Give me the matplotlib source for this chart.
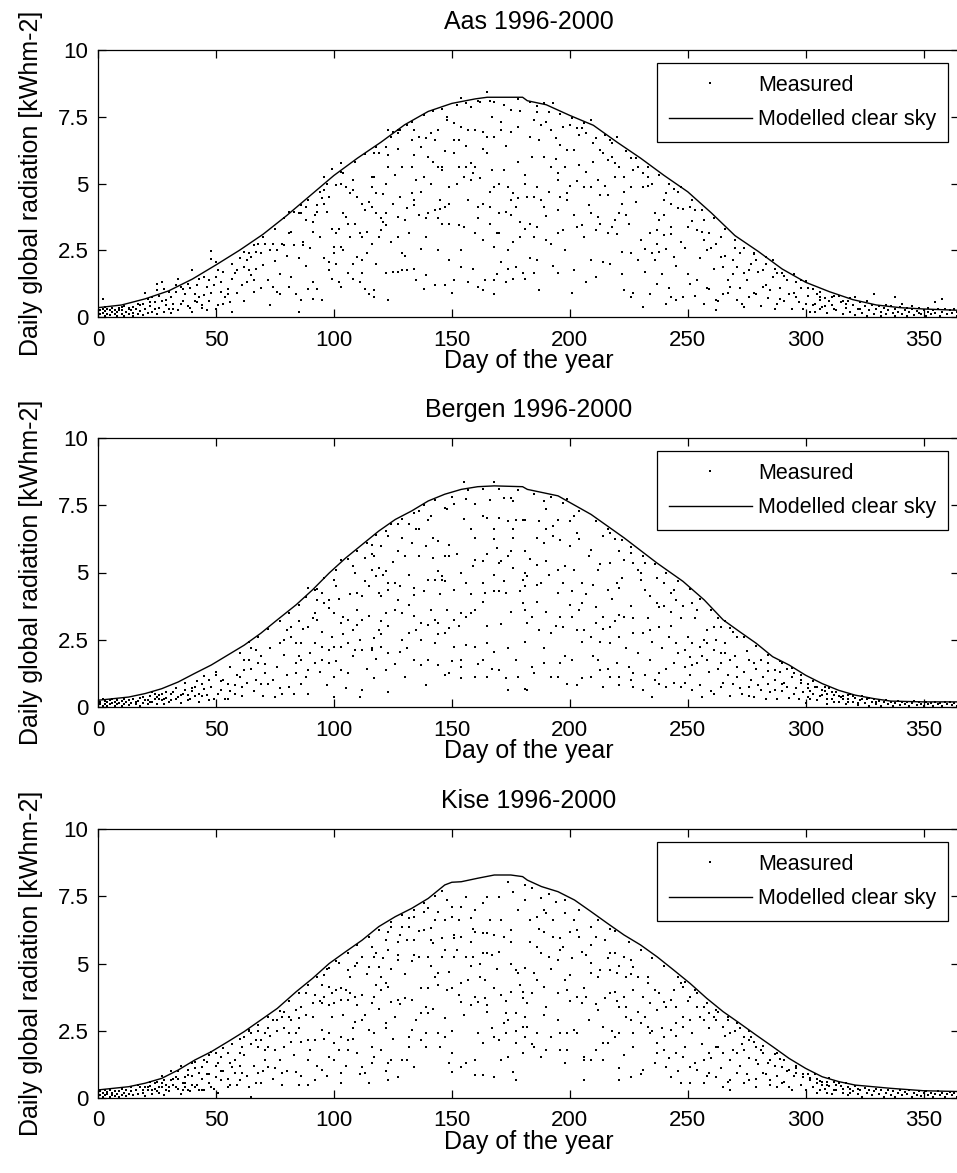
import matplotlib
matplotlib.use("Agg")
import matplotlib.pyplot as plt
from matplotlib.lines import Line2D

plt.rcParams['font.family'] = ['Liberation Sans', 'DejaVu Sans']

titles = ["Aas 1996-2000", "Bergen 1996-2000", "Kise 1996-2000"]
x_ticks = [0, 50, 100, 150, 200, 250, 300, 350]
y_ticks = [0, 2.5, 5, 7.5, 10]
y_tick_labels = ["0", "2.5", "5", "7.5", "10"]

# ---------------- Aas ----------------
aas_clear_days = [0,10,20,30,40,50,60,70,80,90,100,110,120,130,140,150,160,165,180,182,190,200,210,220,230,240,250,260,270,280,290,300,310,320,330,340,350,365]
aas_clear_vals = [0.35,0.45,0.68,0.98,1.42,1.95,2.5,3.1,3.8,4.55,5.3,5.95,6.55,7.2,7.7,8.0,8.17,8.23,8.23,8.1,7.95,7.55,7.18,6.55,5.95,5.3,4.69,3.9,3.05,2.45,1.8,1.3,0.95,0.65,0.45,0.35,0.3,0.25]
aas_measured = [
(165,8.44),(154,8.19),(158,7.88),(161,8.1),(168,8.06),(172,7.94),(175,7.75),(171,7.31),(171,7.0),(175,6.94),(178,7.1),(165,6.75),(168,6.75),(163,6.94),(160,7.0),(157,7.0),(154,7.13),(151,7.25),(148,7.5),(148,7.38),(144,7.0),(151,6.63),(153,6.63),(141,6.88),(139,6.69),(136,6.75),(133,6.63),(143,6.63),(140,6.0),(142,5.81),(144,5.63),(146,5.63),(146,5.5),(151,6.13),(153,5.63),(156,5.63),(158,5.75),(160,5.63),(155,5.25),(158,5.13),(159,5.38),(163,6.31),(165,6.13),(167,5.5),(166,4.69),(168,4.88),(170,5.0),(174,4.88),(176,4.63),(175,4.38),(178,4.44),(177,4.13),(170,3.88),(173,3.94),(175,3.81),(179,3.56),(170,3.13),(169,3.13),(168,2.63),(174,2.5),(179,3.0),(171,2.06),(174,1.81),(177,1.88),(180,1.63),(176,1.44),(173,1.31),(168,0.88),(168,1.38),(164,1.38),(161,1.13),(163,1.0),(157,1.31),(154,1.88),(151,1.38),(147,1.19),(144,2.5),(149,2.13),(153,3.44),(155,3.38),(160,3.13),(161,3.69),(161,4.13),(163,4.25),(166,4.13),(147,4.13),(145,4.06),(143,4.0),(140,3.88),(139,3.69),(144,3.69),(146,3.5),(149,4.25),(149,4.88),(134,4.38),(134,4.19),(135,5.13),(138,5.25),(136,3.81),(133,4.63),(130,3.63),(132,3.13),(127,3.0),(127,3.75),(125,4.25),(122,3.88),(121,3.56),(122,3.44),(119,3.0),(116,2.75),(112,3.0),(111,3.13),(114,3.19),(120,3.25),(116,4.13),(118,3.88),(112,4.25),(113,4.0),(110,4.5),(116,4.88),(118,4.63),(122,5.0),(117,5.25),(116,5.25),(123,5.63),(123,6.06),(122,6.38),(119,6.13),(117,6.13),(127,6.31),(129,5.63),(134,6.06),(137,6.38),(136,6.75),(131,7.19),(134,7.0),(125,6.94),(123,7.0),(127,6.88),(127,7.0),(108,5.13),(105,4.88),(103,5.0),(101,4.94),(107,4.63),(108,4.75),(103,5.75),(103,5.44),(99,5.56),(96,5.25),(96,4.75),(98,4.5),(95,4.44),(93,4.19),(96,4.25),(97,3.94),(93,3.94),(92,3.81),(105,3.75),(106,3.5),(102,3.31),(101,3.13),(91,3.19),(91,3.56),(88,3.63),(86,3.88),(88,4.13),(85,3.88),(81,3.94),(81,3.13),(82,3.19),(87,2.81),(87,2.69),(78,2.75),(79,2.69),(76,2.5),(74,2.75),(73,2.5),(71,2.75),(68,2.75),(69,2.38),(67,2.44),(65,2.25),(63,2.13),(62,1.88),(64,1.75),(65,1.56),(66,1.38),(61,1.19),(59,1.75),(58,1.63),(57,1.44),(55,1.06),(55,0.88),(54,0.75),(52,1.31),(50,1.5),(48,2.47),(48,2.19),(50,2.06),(51,1.75),(47,1.38),(46,1.13),(45,0.81),(43,0.75),(41,0.88),(40,1.75),(43,1.44),(38,1.25),(36,1.06),(34,1.44),(35,1.13),(33,0.94),(31,0.75),(28,1.06),(27,1.31),(25,1.25),(25,1.0),(23,0.75),(21,0.69),(19,0.5),(17,0.5),(15,0.38),(13,0.31),(10,0.38),(9,0.25),(6,0.19),(3,0.38),(2,0.69),
(74,1.13),(76,0.94),(77,0.88),(73,0.44),(81,1.13),(84,0.88),(86,0.63),(85,0.19),(89,1.06),(93,1.06),(91,0.69),(95,0.63),(98,2.06),(98,1.75),(100,2.63),(100,2.38),(103,2.63),(104,2.5),(99,1.44),(102,1.31),(103,1.13),(106,1.63),(108,1.44),(108,2.0),(110,2.25),(112,2.13),(112,1.63),(113,1.06),(115,0.88),(117,0.75),(117,1.0),(123,0.63),(122,1.63),(125,1.69),(127,1.69),(129,1.75),(131,1.75),(134,1.81),(129,2.38),(137,2.56),(139,1.56),(138,1.06),
(183,8.06),(189,8.0),(193,8.0),(186,7.69),(191,7.69),(185,7.38),(190,7.31),(192,7.0),(200,7.19),(203,7.06),(205,7.06),(209,7.38),(207,6.88),(211,6.69),(210,6.5),(213,6.25),(217,6.63),(220,6.75),(183,6.75),(187,6.63),(194,6.69),(196,6.44),(199,6.25),(202,6.25),(195,5.38),(195,5.13),(189,6.0),(192,5.63),(198,5.63),(204,5.69),(207,5.44),(212,5.13),(214,6.13),(216,5.88),(219,5.75),(221,5.63),(226,5.94),(227,5.5),(229,5.63),(231,5.38),(233,5.25),(235,5.0),(231,4.88),(226,4.88),(223,5.25),(219,5.25),(222,4.25),(221,3.88),(224,3.81),(216,4.56),(213,4.56),(209,4.88),(206,4.88),(199,4.63),(199,4.38),(196,4.5),(188,4.38),(185,4.5),(186,4.88),(181,5.31),(181,5.0),(195,4.0),(189,4.13),(202,3.81),(209,3.88),(212,3.75),(219,3.63),(205,3.44),(203,3.38),(197,3.25),(195,3.13),(192,2.75),(190,2.88),(186,3.38),(183,3.5),(185,3.0),(181,3.31),(211,3.25),(216,3.13),(218,3.38),(222,2.44),(226,2.38),(229,2.13),(232,2.56),(234,3.13),(237,3.25),(238,3.63),(240,3.81),(243,4.25),(241,4.63),(244,4.81),(247,4.88),(248,4.06),(251,4.13),(253,4.0),(243,3.38),(240,3.06),(237,2.75),(238,2.44),(236,2.13),(241,2.56),(244,2.25),(247,2.81),(250,3.38),(254,3.25),(257,3.63),(257,2.88),(258,2.5),(259,3.13),(262,2.75),(264,2.25),(265,1.88),(267,1.38),(269,2.13),(271,1.88),(272,2.38),(274,1.63),(276,1.75),(278,2.38),(279,2.13),(282,1.75),(283,2.25),(286,2.13),(288,1.63),(290,1.63),(292,1.38),(295,1.6),(298,1.38),(300,1.35),(303,1.06),(305,0.88),(306,0.63),(307,0.38),(300,0.5),(296,0.75),(293,0.88),(289,0.69),(288,0.5),(285,1.0),(282,1.13),(279,0.88),(276,0.75),(274,0.38),(271,0.63),(268,1.13),(265,0.88),(262,0.63),(259,1.06),(257,0.5),(254,1.38),(251,1.25),(248,0.75),(245,0.63),(243,0.75),(241,0.5),(237,1.25),(234,0.88),(231,0.38),(226,0.75),(223,1.0),(214,2.06),(209,2.13),(207,1.31),(202,1.75),(195,1.63),(186,2.13),(181,1.44),(185,1.63),(262,0.25),
(321,0.75),(329,0.88),(338,0.75),(341,0.5),(355,0.56),(358,0.69),
(0,0.05),(0,0.2),(0,0.32),(1,0.1),(1,0.25),(2,0.15),(2,0.3),(3,0.05),(3,0.22),(4,0.12),(4,0.3),(5,0.08),(5,0.25),(6,0.35),(7,0.1),(7,0.28),(8,0.05),(8,0.18),(9,0.32),(10,0.12),(10,0.25),(11,0.05),(11,0.4),(12,0.2),(13,0.1),(13,0.35),(14,0.25),(15,0.05),(15,0.15),(16,0.3),(17,0.12),(18,0.22),(18,0.45),(19,0.08),(20,0.3),(21,0.15),(22,0.4),(23,0.2),(24,0.55),(25,0.1),(26,0.35),(27,0.6),(28,0.2),(29,0.45),(30,0.3),(31,0.15),(32,0.5),(34,0.25),(36,0.6),(38,0.4),(40,0.2),(42,0.55),(44,0.35),(47,0.6),(50,0.3),(53,0.5),(57,0.2),
(302,0.2),(304,0.5),(306,0.3),(308,0.7),(309,0.15),(311,0.45),(312,0.8),(313,0.25),(315,0.55),(316,0.1),(317,0.35),(318,0.6),(319,0.2),(320,0.45),(321,0.08),(322,0.3),(323,0.55),(324,0.15),(325,0.4),(326,0.05),(327,0.25),(328,0.45),(329,0.12),(330,0.3),(331,0.42),(332,0.05),(332,0.2),(333,0.35),(334,0.1),(335,0.28),(336,0.4),(337,0.15),(338,0.05),(338,0.3),(339,0.2),(340,0.38),(341,0.1),(342,0.25),(343,0.05),(343,0.33),(344,0.18),(345,0.3),(346,0.08),(347,0.22),(348,0.35),(349,0.12),(350,0.27),(351,0.05),(352,0.2),(352,0.32),(353,0.1),(354,0.25),(355,0.15),(356,0.3),(357,0.05),(358,0.2),(359,0.3),(360,0.1),(361,0.25),(362,0.15),(363,0.3),(364,0.05),(364,0.2),(365,0.12),
]
aas_measured_more = [
(62,2.45),(66,2.7),(70,3.0),(75,3.3),(79,3.7),(83,3.95),(86,4.2),(89,4.4),(94,4.7),(97,5.0),(104,5.4),(109,5.8),(113,6.1),(118,6.35),(124,6.75),(128,7.0),(133,7.3),(138,7.55),(142,7.7),(146,7.8),(152,7.95),(156,8.0),(162,8.05),(166,8.1),(178,8.15),(186,7.9),(196,7.6),(201,7.45),(206,7.25),(215,6.8),(218,6.5),(224,6.2),(228,5.95),(233,5.6),(238,5.3),(242,5.0),(246,4.7),(252,4.4),(256,4.0),(261,3.7),(266,3.3),(270,2.9),(274,2.6),(278,2.35),(283,2.0),(287,1.8),(291,1.55),(296,1.3),(301,1.1),(306,0.95),(311,0.75),(316,0.6),
(20,0.9),(22,0.55),(24,0.3),(26,0.8),(29,0.65),(30,0.95),(32,0.3),(33,1.2),(35,0.5),(37,0.85),(39,0.35),(39,1.1),(41,0.6),(42,1.2),(44,0.45),(45,1.5),(46,0.25),(48,0.9),(49,1.2),(51,0.45),(52,0.95),(53,1.7),(56,0.55),(57,2.0),(59,0.9),(60,2.2),(62,0.6),(63,1.3),(64,2.4),(66,0.95),(67,1.8),(69,1.1),(70,1.95),(72,1.4),(75,2.1),(77,1.6),(80,2.3),(82,1.5),(83,2.7),(85,2.2),(88,1.9),(90,2.6),(91,1.3),(94,3.0),(96,2.2),(99,3.3),(101,2.0),(104,3.9),(107,3.0),(109,3.5),(111,1.3),(114,2.4),(115,4.3),(118,2.0),(120,3.7),(121,4.6),(124,2.8),(126,5.3),(128,4.5),(130,2.3),(131,4.1),(133,5.6),(135,1.4),(137,4.7),(139,3.0),(141,5.0),(143,1.2),(145,4.4),(147,6.2),(149,3.5),(150,0.9),(152,5.0),(154,2.5),(156,6.4),(157,4.4),(159,1.8),(162,5.2),(163,2.9),(166,3.5),(167,7.5),(169,1.6),(172,5.5),(173,6.4),(176,2.8),(178,5.8),(179,7.7),(182,4.5),(183,2.2),(184,6.0),(187,1.0),(188,7.2),(190,3.8),(191,4.7),(193,1.9),(194,5.9),(197,7.1),(198,2.5),(200,4.9),(201,0.9),(203,5.1),(204,6.8),(206,3.0),(208,4.2),(210,5.8),(211,1.5),(213,3.5),(215,4.9),(217,2.0),(218,6.0),(220,3.1),(222,1.6),(223,4.7),(225,3.5),(227,0.9),(228,4.3),(230,2.9),(232,1.7),(233,4.9),(235,2.4),(236,3.9),(239,1.6),(240,4.4),(242,1.1),(243,3.1),(245,1.9),(246,4.1),(249,2.6),(250,1.6),(252,3.6),(253,0.8),(255,2.2),(256,3.2),(258,1.1),(260,2.6),(261,1.8),(263,0.6),(264,3.0),(266,2.3),(267,0.9),(269,1.6),(270,2.6),(272,1.1),(273,0.5),(275,1.4),(277,2.0),(278,0.9),(280,1.7),(281,0.4),(283,1.2),(284,0.7),(286,1.5),(287,0.3),(289,1.1),(291,0.6),(292,1.4),(294,0.3),(295,0.9),(297,0.55),(298,1.1),(299,0.3),(301,0.8),(303,0.45),(304,0.2),(306,0.75),(308,0.4),(310,0.6),(312,0.3),(314,0.8),(317,0.5),(319,0.7),(323,0.3),(326,0.6),(334,0.45),(345,0.4),(348,0.15),
]

# ---------------- Bergen ----------------
bergen_clear_days = [0,13,20,27,34,41,48,55,62,69,76,84,91,98,105,112,119,126,133,140,147,154,161,168,180,182,195,209,223,237,248,257,265,272,279,286,293,300,307,314,321,329,336,350,365]
bergen_clear_vals = [0.25,0.37,0.5,0.68,0.93,1.25,1.56,1.93,2.3,2.74,3.24,3.8,4.36,4.98,5.54,6.04,6.54,6.97,7.29,7.66,7.91,8.09,8.19,8.22,8.19,8.09,7.85,7.16,6.29,5.35,4.67,3.98,3.24,2.8,2.37,1.87,1.56,1.18,0.87,0.62,0.44,0.31,0.22,0.19,0.19]
bergen_measured = [
(155,8.38),(168,8.38),(170,8.09),(172,7.78),(175,7.78),(176,7.66),(160,7.53),(156,7.72),(148,7.35),(147,7.41),(151,7.53),(141,7.1),(140,6.97),(136,6.6),(136,7.29),(132,6.79),(127,6.79),(123,6.35),(122,6.54),(163,7.1),(165,7.04),(170,7.04),(174,6.91),(177,6.97),(180,6.97),(158,6.6),(168,6.6),(168,6.23),(176,6.6),(144,6.16),(149,6.04),(149,5.6),(142,5.54),(139,5.98),(136,5.6),(133,6.1),(130,5.6),(127,5.79),(120,5.98),(116,6.04),(116,5.67),(113,5.54),(119,5.17),(122,5.04),(123,4.61),(108,5.23),(109,4.98),(116,5.1),(118,4.86),(115,4.48),(110,4.23),(112,4.11),(119,4.23),(120,4.11),(123,4.36),(126,4.61),(127,3.99),(129,3.49),(132,3.8),(134,4.42),(134,4.17),(140,4.73),(143,4.73),(146,4.73),(147,4.67),(146,4.86),(144,5.04),(151,4.36),(154,4.98),(156,4.61),(160,5.48),(163,5.42),(159,5.23),(165,5.67),(168,4.92),(170,5.35),(171,5.42),(174,5.6),(175,5.79),(176,5.17),(180,4.73),(181,4.98),(181,4.48),(180,3.86),(181,3.61),(175,3.55),(173,4.23),(170,4.3),(168,4.3),(164,4.23),(163,3.92),(160,3.61),(158,3.49),(156,3.36),(154,3.49),(151,3.24),(149,2.93),(147,2.74),(144,3.11),(143,3.24),(140,3.05),(137,3.11),(135,2.86),(132,2.74),(129,2.49),(126,3.61),(122,3.49),(120,3.18),(119,2.86),(117,2.55),(116,2.18),(112,3.24),(110,3.05),(108,2.86),(106,3.24),(104,3.36),(103,3.11),(100,3.49),(98,3.67),(96,3.86),(98,3.99),(95,4.23),(93,3.99),(92,4.36),(89,4.42),(101,4.48),(100,4.73),(92,3.49),(93,3.24),(89,2.99),(85,3.18),(82,2.99),(80,2.86),(79,2.49),(77,2.37),(84,2.37),(86,2.37),(92,2.37),(95,2.24),(98,2.12),(100,2.24),(103,2.24),(106,2.37),(109,2.12),(112,2.12),(116,2.12),(120,2.24),(123,1.99),(128,2.05),(134,1.74),(137,1.56),(140,1.74),(144,1.56),(149,1.25),(143,2.37),(151,2.24),(154,1.74),(160,2.24),(165,2.37),(163,1.74),(168,2.05),(170,1.37),(173,1.06),(165,1.12),(160,1.12),(154,1.49),(154,1.06),(174,0.62),(181,0.68),(177,1.74),(147,1.18),(130,1.12),(123,0.56),(122,1.37),(117,1.06),(112,0.62),(111,0.37),(106,1.25),(103,1.37),(100,1.12),(98,1.62),(95,1.74),(92,1.62),(89,1.37),(86,1.74),(84,1.62),(84,1.25),(86,0.87),(89,0.5),(100,0.37),(81,0.75),(78,0.5),(75,0.37),(72,0.87),(69,0.87),(71,1.25),(68,1.62),(67,2.12),(65,2.18),(64,1.74),(62,1.37),(60,1.12),(61,0.75),(58,0.5),(55,0.87),(52,0.62),(50,1.18),(47,1.0),(45,0.68),(43,0.5),(41,0.75),(38,0.44),(37,0.62),(34,0.37),(31,0.5),(28,0.31),(27,0.5),(25,0.37),(23,0.56),(21,0.25),(19,0.37),(16,0.19),(103,5.45),
(189,7.66),(190,7.35),(199,7.72),(202,7.1),(200,6.91),(195,6.97),(190,6.6),(193,6.72),(193,6.35),(186,6.29),(181,6.97),(181,5.79),(189,6.1),(200,5.98),(204,6.23),(203,6.48),(209,5.85),(214,6.35),(217,6.48),(219,6.23),(221,5.79),(223,5.48),(226,5.73),(217,5.35),(212,5.1),(198,5.23),(195,5.1),(190,5.42),(186,5.29),(182,4.86),(186,4.55),(188,4.61),(195,4.23),(201,4.3),(205,4.61),(210,4.55),(216,4.36),(220,4.61),(221,4.42),(227,5.35),(229,5.1),(232,5.35),(237,4.79),(240,4.61),(243,4.23),(244,4.36),(230,4.73),(232,4.36),(234,4.11),(237,3.86),(240,3.74),(243,3.55),(245,3.99),(248,3.74),(252,3.86),(254,3.61),(226,3.74),(223,3.36),(221,3.42),(217,2.99),(214,3.36),(211,3.11),(205,3.86),(204,3.61),(201,3.36),(196,3.36),(190,3.55),(184,3.36),(182,3.11),(187,2.86),(192,2.74),(197,2.99),(203,2.86),(206,2.86),(209,2.62),(213,2.43),(217,2.37),(221,2.62),(227,2.74),(231,2.74),(234,2.86),(238,2.99),(242,2.62),(245,2.37),(249,2.12),(252,2.37),(258,2.86),(261,2.99),(264,2.99),(266,3.2),(269,2.8),(271,2.6),(266,2.37),(264,1.99),(261,2.12),(258,2.37),(255,2.24),(251,1.87),(252,1.56),(249,1.49),(254,1.62),(258,1.74),(264,1.62),(268,1.74),(271,1.49),(276,1.74),(278,1.62),(281,1.74),(284,1.62),(287,1.37),(290,1.62),(292,1.43),(295,1.25),(298,1.0),(301,0.87),(304,0.75),(307,0.62),(309,0.5),(312,0.44),(315,0.37),(318,0.31),(301,0.37),(295,0.5),(292,0.75),(290,0.87),(287,0.62),(284,0.87),(281,0.62),(278,0.37),(276,0.75),(273,0.5),(269,0.87),(264,0.75),(261,0.5),(256,0.37),(252,0.62),(247,0.75),(241,0.75),(238,0.87),(235,0.37),(231,0.62),(227,0.75),(226,1.0),(221,1.12),(217,1.12),(213,1.37),(209,1.12),(205,1.06),(199,0.87),(195,1.12),(189,1.62),(185,1.25),(182,0.62),(214,0.75),(227,1.25),(238,1.25),(201,1.74),(196,1.62),(212,1.74),(220,1.62),(234,1.74),(244,1.62),
(0,0.05),(0,0.15),(0,0.25),(1,0.1),(1,0.2),(2,0.05),(2,0.28),(3,0.12),(3,0.22),(4,0.05),(4,0.18),(5,0.1),(5,0.25),(6,0.15),(6,0.3),(7,0.05),(7,0.2),(8,0.1),(8,0.27),(9,0.15),(10,0.05),(10,0.22),(11,0.12),(11,0.3),(12,0.18),(13,0.08),(13,0.25),(14,0.15),(15,0.3),(16,0.1),(17,0.22),(18,0.05),(18,0.35),(19,0.15),(20,0.25),(21,0.1),(22,0.4),(23,0.2),(24,0.3),(25,0.12),(26,0.45),(27,0.25),(28,0.1),(29,0.35),(30,0.2),(32,0.55),(33,0.3),(35,0.15),(36,0.5),(38,0.25),(40,0.7),(41,0.4),(43,0.2),(44,0.85),(46,0.45),(49,0.3),(52,0.95),(54,0.3),(56,0.6),
(300,0.15),(302,0.6),(305,0.25),(307,0.45),(309,0.1),(310,0.7),(311,0.3),(313,0.55),(314,0.2),(316,0.4),(317,0.1),(318,0.3),(319,0.5),(320,0.2),(321,0.35),(322,0.08),(323,0.25),(324,0.4),(325,0.15),(326,0.3),(327,0.05),(328,0.2),(329,0.28),(330,0.1),(331,0.22),(332,0.05),(333,0.18),(334,0.25),(335,0.1),(336,0.2),(337,0.05),(338,0.15),(339,0.22),(340,0.08),(341,0.18),(342,0.1),(343,0.2),(344,0.05),(345,0.15),(346,0.22),(347,0.08),(348,0.18),(349,0.12),(350,0.05),(351,0.2),(352,0.1),(353,0.15),(354,0.05),(355,0.2),(356,0.1),(357,0.15),(358,0.05),(359,0.18),(360,0.1),(361,0.2),(362,0.08),(363,0.15),(364,0.05),(365,0.12),
]
bergen_measured_more = [
(60,2.0),(64,2.4),(68,2.6),(72,2.9),(77,3.2),(81,3.5),(85,3.8),(88,4.1),(93,4.4),(96,4.8),(101,5.1),(106,5.5),(110,5.8),(114,6.1),(118,6.4),(124,6.8),(129,7.0),(134,7.2),(138,7.5),(143,7.7),(150,7.8),(157,8.05),(163,8.1),(178,8.05),(185,7.9),(192,7.8),(197,7.6),(204,7.3),(211,6.9),(216,6.6),(222,6.2),(226,5.95),(231,5.6),(236,5.3),(241,5.0),(246,4.7),(251,4.4),(255,4.0),(260,3.6),(263,3.3),(268,2.95),(274,2.6),(279,2.25),(284,1.95),(289,1.7),(294,1.45),(298,1.2),(303,0.95),(308,0.75),(313,0.55),(318,0.45),
(22,0.2),(24,0.5),(26,0.3),(29,0.55),(31,0.25),(33,0.7),(35,0.45),(37,0.9),(39,0.3),(40,0.6),(42,0.95),(44,0.4),(45,1.15),(47,0.25),(48,0.75),(50,1.3),(51,0.5),(53,1.0),(55,0.3),(56,1.5),(58,0.8),(59,1.2),(61,0.4),(62,1.75),(63,0.9),(65,1.4),(66,0.6),(67,1.0),(69,1.9),(70,0.4),(71,1.6),(73,2.2),(74,1.0),(76,1.5),(77,0.7),(79,1.95),(80,1.2),(82,2.6),(83,0.5),(85,1.9),(87,2.9),(88,1.1),(90,2.0),(91,3.3),(94,1.3),(95,2.8),(97,0.8),(99,2.6),(101,1.7),(102,4.0),(104,2.7),(105,0.7),(107,4.2),(108,1.9),(110,3.6),(111,2.5),(113,4.7),(114,1.4),(115,3.4),(117,5.6),(118,1.8),(120,2.7),(121,4.9),(123,3.0),(125,5.4),(126,1.6),(128,4.5),(129,6.3),(131,2.2),(132,4.9),(134,3.4),(135,6.6),(137,2.5),(138,4.3),(139,0.8),(141,3.6),(142,6.3),(144,2.7),(145,4.2),(147,5.6),(148,3.6),(150,1.7),(152,5.7),(153,3.0),(155,7.0),(156,2.3),(158,4.2),(160,6.3),(161,1.6),(163,4.6),(165,3.0),(166,7.7),(167,1.4),(169,5.9),(171,3.1),(172,4.7),(174,2.2),(176,6.3),(178,1.1),(179,4.3),(181,2.4),(183,5.5),(184,1.5),(186,3.9),(187,6.9),(189,2.2),(191,4.9),(192,1.1),(194,3.0),(196,6.2),(197,4.6),(198,1.9),(200,3.8),(202,5.1),(203,0.8),(205,2.4),(207,4.2),(208,5.6),(210,1.9),(211,3.7),(213,5.3),(214,2.9),(216,1.4),(218,4.0),(219,3.2),(221,0.8),(222,4.8),(224,2.2),(225,1.5),(227,3.3),(229,2.0),(230,5.0),(232,1.2),(233,3.3),(235,2.4),(236,1.0),(238,3.7),(239,2.2),(241,1.4),(243,3.0),(244,0.9),(246,2.0),(247,3.3),(249,0.9),(250,2.6),(251,1.2),(253,3.3),(255,0.8),(256,1.9),(257,2.5),(259,1.3),(260,0.6),(262,2.5),(263,1.4),(265,0.9),(266,2.0),(267,1.2),(268,0.4),(270,1.9),(271,1.1),(272,0.7),(274,1.3),(275,2.1),(276,0.4),(277,1.0),(279,1.4),(280,0.8),(282,1.1),(283,0.3),(284,1.35),(285,0.55),(287,1.0),(288,0.3),(289,1.3),(290,0.6),(291,0.9),(293,0.35),(294,1.1),(296,0.7),(297,0.3),(298,0.9),(299,0.55),(301,0.7),(302,0.3),(303,0.5),(305,0.75),(306,0.4),(308,0.6),(309,0.3),(311,0.55),(312,0.2),(314,0.4),(316,0.3),(318,0.2),(320,0.4),(322,0.15),(324,0.3),(327,0.35),(330,0.2),
]

# ---------------- Kise ----------------
kise_clear_days = [0,13,20,27,34,41,48,55,62,69,76,84,91,98,105,112,119,126,133,140,147,150,154,161,168,175,180,182,188,195,202,209,216,223,230,237,244,251,258,265,272,279,286,293,300,307,314,321,336,350,365]
kise_clear_vals = [0.3,0.42,0.55,0.73,1.04,1.41,1.72,2.09,2.47,2.9,3.33,3.95,4.45,5.0,5.44,5.87,6.37,6.74,7.05,7.42,7.92,8.02,8.04,8.17,8.29,8.29,8.23,8.1,7.86,7.67,7.36,6.93,6.49,6.06,5.69,5.25,4.76,4.26,3.71,3.21,2.78,2.34,1.91,1.47,1.1,0.79,0.61,0.48,0.36,0.27,0.24]
kise_measured = [
(174,8.04),(176,7.67),(170,7.48),(165,7.48),(163,7.24),(160,6.99),(156,7.48),(158,6.68),(154,7.11),(150,7.11),(148,7.36),(150,6.74),(153,6.62),(147,6.62),(143,6.62),(140,7.05),(138,6.93),(134,6.74),(132,6.68),(141,6.31),(138,6.25),(132,6.37),(129,6.37),(128,6.06),(124,6.37),(123,6.18),(122,5.87),(131,5.87),(134,5.87),(141,5.87),(142,5.75),(146,5.94),(151,6.06),(151,5.94),(154,6.0),(158,5.81),(160,6.18),(163,6.12),(165,6.12),(168,6.06),(171,6.62),(175,6.25),(175,5.81),(163,5.38),(165,5.38),(167,5.32),(170,5.44),(159,5.25),(156,5.25),(151,5.25),(146,5.25),(140,5.25),(136,5.25),(134,5.32),(127,5.32),(127,5.13),(123,5.5),(118,5.38),(116,5.63),(117,5.25),(112,5.25),(110,5.01),(115,4.88),(119,4.88),(120,4.51),(122,4.26),(123,4.14),(120,4.01),(117,3.77),(116,3.52),(112,3.83),(109,3.77),(110,3.46),(106,3.64),(105,4.01),(103,4.08),(106,4.76),(107,4.51),(102,5.01),(98,4.82),(96,4.57),(95,4.2),(98,4.14),(99,3.89),(96,3.77),(92,3.83),(91,3.52),(95,3.52),(98,3.46),(100,3.52),(103,3.64),(89,4.2),(88,3.89),(86,3.4),(84,3.27),(85,2.96),(82,2.9),(79,3.21),(78,3.02),(76,2.9),(74,2.9),(72,2.59),(71,2.4),(69,2.16),(68,1.91),(67,2.16),(65,2.4),(64,2.53),(62,2.28),(61,1.91),(60,1.66),(58,1.41),(57,1.16),(58,0.92),(55,1.66),(52,1.54),(51,1.29),(50,1.66),(48,1.7),(47,1.6),(45,1.41),(44,1.16),(43,0.92),(41,1.35),(40,1.29),(38,1.04),(37,0.79),(36,0.55),(34,1.0),(33,0.79),(31,0.67),(30,0.42),(28,0.67),(27,0.55),(26,0.42),(24,0.55),(23,0.3),(21,0.42),(20,0.42),(19,0.3),(17,0.48),
(75,1.1),(78,0.92),(78,0.48),(84,0.98),(85,0.48),(89,0.48),(89,1.41),(92,0.67),(95,1.04),(98,1.54),(100,1.41),(103,0.92),(103,0.55),(106,1.78),(110,1.66),(112,1.16),(113,0.92),(115,0.55),(116,1.29),(117,1.54),(120,1.78),(123,1.29),(123,0.67),(124,1.41),(127,0.79),(129,1.41),(134,1.16),(132,1.91),(133,2.53),(132,2.28),(137,2.16),(139,2.4),(140,3.15),(144,2.4),(147,2.28),(147,2.96),(150,1.66),(149,1.29),(150,0.98),(154,1.16),(160,1.41),(160,0.85),(163,0.85),(168,0.79),(163,2.03),(168,2.28),(170,2.16),(173,2.4),(174,2.9),(177,3.15),(172,2.78),(177,2.03),(174,1.54),(176,0.98),(177,0.67),(180,1.66),(181,2.28),(180,2.65),(180,3.95),(180,3.71),(173,3.15),(165,3.21),(165,3.46),(161,3.58),(160,3.77),(158,3.46),(154,3.58),(153,3.83),(150,4.08),(154,4.26),(157,4.39),(162,4.51),(164,4.39),(168,4.08),(171,3.83),(175,3.95),(177,4.76),(178,4.63),(181,4.82),(149,4.7),(144,4.2),(144,4.63),(143,4.51),(140,4.08),(139,3.4),(137,3.15),(133,3.64),(130,3.71),(127,3.64),(124,3.58),(126,3.02),(122,2.78),(122,2.59),(117,2.4),(115,2.53),(112,2.9),(109,2.84),(108,2.59),(106,2.16),(103,2.28),(100,2.03),(98,2.4),(95,2.53),(92,2.16),(89,2.16),(86,2.09),(84,2.4),(82,2.09),(81,2.4),(79,1.91),(75,1.78),(72,1.91),(71,1.41),(72,1.16),(68,0.92),(67,0.55),(69,0.55),(64,0.42),(65,0.05),(61,0.92),(60,0.67),(55,0.42),(52,0.67),(50,0.79),(47,0.55),(45,0.3),(41,0.42),(38,0.3),(36,0.3),(33,0.42),
(188,7.42),(194,7.3),(189,6.99),(190,6.86),(186,6.74),(183,6.62),(198,6.86),(202,6.62),(181,7.36),(189,6.18),(193,6.0),(196,5.94),(200,6.18),(203,6.25),(209,6.37),(211,6.0),(215,5.87),(219,6.2),(186,5.63),(188,5.38),(191,5.25),(195,5.13),(196,5.5),(205,5.44),(207,5.32),(209,5.01),(216,5.19),(219,5.38),(223,5.25),(226,5.13),(227,4.88),(229,4.51),(224,4.51),(220,4.63),(217,4.76),(213,4.76),(209,4.63),(200,4.57),(198,4.39),(185,4.63),(189,4.14),(184,3.89),(182,3.52),(190,3.4),(195,3.89),(199,4.01),(203,3.77),(205,3.52),(207,3.77),(212,3.27),(217,3.89),(219,3.95),(221,3.4),(224,3.02),(223,3.77),(227,4.01),(231,3.77),(233,4.26),(236,4.01),(234,3.52),(237,3.27),(240,3.58),(243,3.64),(245,3.4),(247,4.26),(248,4.14),(251,3.77),(254,3.89),(254,3.4),(257,3.4),(257,2.9),(259,3.15),(262,3.27),(262,2.9),(265,2.65),(267,3.0),(268,2.4),(271,2.78),(274,2.28),(276,2.5),(251,2.9),(248,2.65),(245,2.78),(243,2.53),(240,2.28),(237,2.03),(234,2.4),(233,2.65),(230,2.78),(227,2.4),(226,2.9),(221,2.4),(219,2.28),(216,2.03),(214,2.65),(211,1.78),(209,1.41),(206,1.41),(202,2.53),(199,2.4),(196,2.4),(192,2.28),(186,2.4),(182,2.65),(185,1.91),(188,1.54),(196,1.78),(199,1.78),(206,1.54),(214,2.03),(221,1.1),(226,0.79),(231,1.04),(237,1.66),(240,1.78),(241,1.16),(243,0.79),(245,1.66),(248,1.54),(251,1.16),(254,1.04),(257,1.41),(259,1.66),(262,1.91),(265,1.66),(268,1.41),(271,1.66),(274,1.78),(276,2.16),(279,1.91),(279,1.41),(282,1.66),(285,1.41),(288,1.66),(290,1.16),(293,1.04),(296,0.92),(299,0.79),(302,0.67),(305,0.55),(307,0.48),(310,0.75),(271,0.92),(274,0.55),(268,0.67),(265,0.42),(262,0.79),(259,0.92),(257,0.55),(251,0.55),(247,0.55),(282,0.92),(285,0.67),(288,0.42),(290,0.55),(293,0.42),(279,0.42),(276,0.67),(206,0.67),(221,0.67),(268,0.3),
(0,0.08),(0,0.2),(0,0.3),(1,0.12),(1,0.25),(2,0.05),(2,0.18),(3,0.1),(3,0.28),(4,0.15),(4,0.22),(5,0.05),(5,0.3),(6,0.12),(6,0.2),(7,0.08),(7,0.27),(8,0.15),(9,0.05),(9,0.25),(10,0.12),(10,0.33),(11,0.2),(12,0.08),(12,0.3),(13,0.15),(14,0.25),(14,0.4),(15,0.1),(16,0.3),(17,0.15),(18,0.4),(19,0.2),(20,0.08),(21,0.3),(22,0.45),(23,0.15),(24,0.35),(25,0.6),(26,0.2),(27,0.4),(28,0.12),(29,0.5),(30,0.25),(32,0.7),(34,0.35),(35,0.15),(37,0.55),(39,0.25),(40,0.8),(42,0.5),(44,0.3),(46,0.9),(48,0.4),(51,0.2),(53,1.0),(56,0.5),
(305,0.2),(306,0.65),(308,0.35),(309,0.5),(311,0.15),(312,0.6),(313,0.3),(315,0.45),(316,0.2),(317,0.55),(318,0.1),(319,0.35),(320,0.25),(321,0.45),(322,0.15),(323,0.3),(324,0.05),(325,0.38),(326,0.2),(327,0.3),(328,0.1),(329,0.25),(330,0.35),(331,0.15),(332,0.28),(333,0.05),(334,0.2),(335,0.3),(336,0.12),(337,0.25),(338,0.05),(339,0.18),(340,0.3),(341,0.1),(342,0.22),(343,0.15),(344,0.28),(345,0.05),(346,0.2),(347,0.12),(348,0.25),(349,0.08),(350,0.18),(351,0.25),(352,0.1),(353,0.2),(354,0.05),(355,0.15),(356,0.25),(357,0.1),(358,0.2),(359,0.05),(360,0.15),(361,0.22),(362,0.1),(363,0.18),(364,0.05),(365,0.15),
]
kise_measured_more = [
(60,2.2),(64,2.5),(68,2.7),(72,3.0),(77,3.25),(81,3.6),(85,3.9),(89,4.2),(93,4.5),(97,4.8),(101,5.1),(106,5.4),(110,5.7),(115,6.0),(119,6.25),(124,6.55),(129,6.8),(134,7.0),(138,7.25),(143,7.5),(146,7.7),(181,7.9),(184,7.8),(191,7.6),(198,7.35),(204,7.0),(212,6.6),(217,6.3),(225,5.8),(230,5.5),(235,5.2),(240,4.9),(246,4.5),(249,4.3),(253,4.0),(258,3.55),(263,3.2),(267,2.9),(272,2.6),(277,2.25),(282,1.95),(287,1.65),(291,1.4),(296,1.1),(301,0.9),(305,0.7),(309,0.6),(313,0.5),(318,0.4),
(22,0.6),(25,0.25),(27,0.8),(29,0.3),(31,1.0),(32,0.5),(34,0.7),(35,1.2),(37,0.4),(38,0.85),(40,0.5),(41,1.1),(43,0.3),(44,0.7),(46,1.35),(47,0.9),(49,0.35),(50,1.2),(52,1.0),(53,1.85),(55,0.7),(56,1.3),(57,2.0),(59,0.5),(60,1.2),(62,1.6),(63,0.8),(65,2.0),(66,1.2),(68,2.5),(70,1.0),(71,1.8),(73,2.3),(74,0.7),(76,2.5),(77,1.4),(79,2.6),(80,1.0),(81,3.0),(83,1.6),(85,2.6),(86,0.8),(88,3.1),(90,1.8),(91,3.0),(93,1.2),(94,3.6),(96,2.2),(97,0.8),(99,3.0),(101,4.0),(102,1.8),(104,3.1),(105,1.2),(107,3.9),(108,2.2),(109,4.9),(111,0.9),(113,3.1),(114,4.6),(116,1.9),(118,4.2),(119,3.3),(121,5.2),(122,1.0),(124,4.8),(125,2.2),(127,5.8),(128,3.5),(130,4.6),(131,1.4),(133,5.1),(135,2.9),(136,6.2),(137,4.1),(139,1.9),(141,4.9),(142,3.3),(144,6.9),(145,1.9),(147,5.5),(148,4.0),(150,2.5),(152,5.5),(153,6.6),(155,3.1),(156,1.3),(158,4.9),(159,6.3),(161,2.4),(162,5.0),(164,3.7),(166,6.6),(167,2.6),(169,4.8),(171,1.4),(172,6.0),(173,3.6),(175,5.0),(177,2.5),(178,7.0),(179,4.2),(181,3.0),(183,5.8),(184,2.0),(186,4.4),(187,6.3),(189,3.1),(190,1.8),(192,4.8),(193,6.6),(195,2.9),(197,5.6),(198,1.3),(200,3.6),(201,5.2),(203,2.4),(204,6.0),(206,4.1),(208,2.9),(209,5.7),(211,3.5),(212,4.5),(214,1.4),(215,3.7),(217,5.4),(218,2.5),(220,3.6),(221,4.9),(223,1.6),(224,3.4),(226,4.6),(227,1.9),(229,3.2),(230,0.9),(232,3.0),(233,4.5),(235,2.5),(236,1.3),(238,3.9),(239,2.6),(241,3.4),(242,1.5),(244,4.0),(245,2.3),(246,1.0),(248,3.0),(249,1.9),(250,3.6),(252,2.4),(253,1.3),(255,3.0),(256,2.0),(258,0.8),(259,2.6),(260,1.5),(261,3.0),(263,1.9),(264,1.1),(266,2.3),(267,0.6),(269,1.8),(270,2.5),(272,1.2),(273,2.0),(275,0.9),(276,1.5),(278,2.1),(279,0.7),(280,1.25),(281,1.8),(283,0.9),(284,1.3),(285,0.5),(287,1.2),(288,0.8),(289,1.45),(291,0.6),(292,1.0),(294,0.3),(295,0.8),(296,1.2),(298,0.5),(299,0.9),(300,0.3),(302,0.75),(303,0.4),(304,0.9),(306,0.3),(307,0.6),(309,0.2),(310,0.45),(312,0.3),(314,0.55),(316,0.35),(319,0.2),(322,0.35),(326,0.2),
]

measured_sets = [aas_measured + aas_measured_more,
                 bergen_measured + bergen_measured_more,
                 kise_measured + kise_measured_more]
clear_sets = [(aas_clear_days, aas_clear_vals), (bergen_clear_days, bergen_clear_vals), (kise_clear_days, kise_clear_vals)]

W, H = 957, 1173
fig = plt.figure(figsize=(W / 100, H / 100), dpi=100)

# axes boxes in pixels: (top, bottom)
panel_px = [(50, 317), (438, 707), (829, 1098)]
left_px, right_px = 98, 959

for i, (top, bot) in enumerate(panel_px):
    ax = fig.add_axes([left_px / W, 1 - bot / H, (right_px - left_px) / W, (bot - top) / H])
    pts = measured_sets[i]
    d = [p[0] for p in pts]
    v = [p[1] for p in pts]
    ax.plot(d, v, linestyle='none', marker='s', markersize=1.9, markeredgewidth=0,
            color='black', label='Measured')
    cd, cv = clear_sets[i]
    ax.plot(cd, cv, color='black', linewidth=1.0, label='Modelled clear sky')

    ax.set_xlim(0, 365)
    ax.set_ylim(0, 10)
    ax.set_xticks(x_ticks)
    ax.set_yticks(y_ticks)
    ax.set_yticklabels(y_tick_labels)
    ax.tick_params(direction='in', top=True, right=True, length=6, width=0.9,
                   labelsize=16, pad=7)
    ax.tick_params(axis='x', pad=9)
    for s in ax.spines.values():
        s.set_linewidth(0.9)

    ax.set_title(titles[i], fontsize=18, pad=15)
    ax.set_xlabel('Day of the year', fontsize=18)
    ax.xaxis.set_label_coords(0.5, -0.12)
    ax.xaxis.label.set_va('top')
    ax.set_ylabel('Daily global radiation [kWhm-2]', fontsize=18)
    ax.yaxis.set_label_coords(-0.064, 0.5)

    handles = [Line2D([], [], linestyle='none', marker='s', markersize=1.9, markeredgewidth=0, color='black'),
               Line2D([], [], color='black', linewidth=1.0)]
    leg = ax.legend(handles, ['Measured', 'Modelled clear sky'], loc='upper right',
                    bbox_to_anchor=(0.987, 0.951), borderaxespad=0, fontsize=15.5,
                    handlelength=3.9, handletextpad=0.25, borderpad=0.55,
                    labelspacing=0.62, fancybox=False, framealpha=1, edgecolor='black')
    leg.get_frame().set_linewidth(0.9)

fig.savefig('out.png', dpi=100)
